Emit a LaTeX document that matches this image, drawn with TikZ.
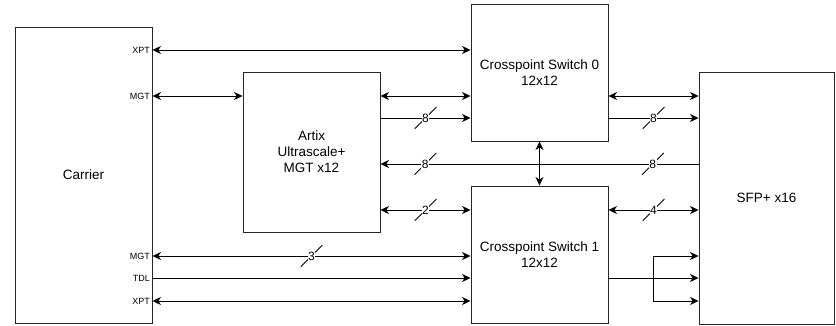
\documentclass[tikz,border=0pt]{standalone}
\usepackage{fontspec}
\setmainfont{Liberation Sans}
\usetikzlibrary{arrows.meta}
\tikzset{
  box/.style={draw=black!85, line width=0.9pt, inner sep=2pt, align=center, font=\fontsize{13.5}{16}\selectfont},
  port/.style={anchor=east, inner sep=1pt, font=\fontsize{9}{10}\selectfont},
  conn/.style={line width=0.9pt, black},
  tip/.tip={Stealth[length=8.5pt,width=8pt,inset=2.5pt]},
  slashmark/.style={minimum size=22pt, inner sep=0pt, path picture={\draw[-, line width=0.8pt] (path picture bounding box.south west) -- (path picture bounding box.north east);}},
  busnum/.style={fill=white, inner sep=0.6pt, font=\fontsize{12}{13}\selectfont},
}
\begin{document}
\begin{tikzpicture}[x=1pt,y=-1pt]
\useasboundingbox (0,0) rectangle (836,326);
% boxes
\node[box, minimum width=137pt, minimum height=296pt] (carrier) at (83.5,175) {Carrier};
\node[box, minimum width=137pt, minimum height=160pt] (artix) at (311.5,152) {Artix\\Ultrascale+\\MGT x12};
\node[box, minimum width=137pt, minimum height=137pt] (cs0) at (539.5,72.5) {Crosspoint Switch 0\\12x12};
\node[box, minimum width=137pt, minimum height=137pt] (cs1) at (539.5,254.5) {Crosspoint Switch 1\\12x12};
\node[box, minimum width=135pt, minimum height=252pt] (sfp) at (766.5,198) {SFP+ x16};
% port labels
\node[port] (pxpt0) at (151,50) {XPT};
\node[port] (pmgt0) at (151,96) {MGT};
\node[port] (pmgt1) at (151,256) {MGT};
\node[port] (ptdl) at (151,278) {TDL};
\node[port] (pxpt1) at (151,301) {XPT};
% carrier connections
\draw[conn, tip-tip] (carrier.east |- pxpt0) -- (cs0.west |- pxpt0);
\draw[conn, tip-tip] (carrier.east |- pmgt0) -- (artix.west |- pmgt0);
\draw[conn, tip-tip] (carrier.east |- pmgt1) -- node[slashmark]{} node[busnum]{3} (cs1.west |- pmgt1);
\draw[conn, -tip] (carrier.east |- ptdl) -- (cs1.west |- ptdl);
\draw[conn, tip-tip] (carrier.east |- pxpt1) -- (cs1.west |- pxpt1);
% artix connections
\draw[conn, tip-tip] (artix.east |- 0,96) -- (cs0.west |- 0,96);
\draw[conn, -tip] (artix.east |- 0,118) -- node[slashmark]{} node[busnum]{8} (cs0.west |- 0,118);
\draw[conn, -tip] (sfp.west |- 0,164) -- node[pos=0.144, slashmark]{} node[pos=0.144, busnum]{8} node[pos=0.859, slashmark]{} node[pos=0.859, busnum]{8} (artix.east |- 0,164);
\draw[conn, tip-tip] (artix.east |- 0,210) -- node[slashmark]{} node[busnum]{2} (cs1.west |- 0,210);
% switch interconnect
\draw[conn, tip-tip] (cs0.south) -- (cs1.north);
% switch to sfp
\draw[conn, tip-tip] (cs0.east |- 0,96) -- (sfp.west |- 0,96);
\draw[conn, -tip] (cs0.east |- 0,118) -- node[slashmark]{} node[busnum]{8} (sfp.west |- 0,118);
\draw[conn, tip-tip] (cs1.east |- 0,210) -- node[slashmark]{} node[busnum]{4} (sfp.west |- 0,210);
\coordinate (fork) at (653,278);
\draw[conn, -tip] (cs1.east |- fork) -- (sfp.west |- fork);
\draw[conn, -tip] (fork) |- (sfp.west |- 0,256);
\draw[conn, -tip] (fork) |- (sfp.west |- 0,301);
\end{tikzpicture}
\end{document}
